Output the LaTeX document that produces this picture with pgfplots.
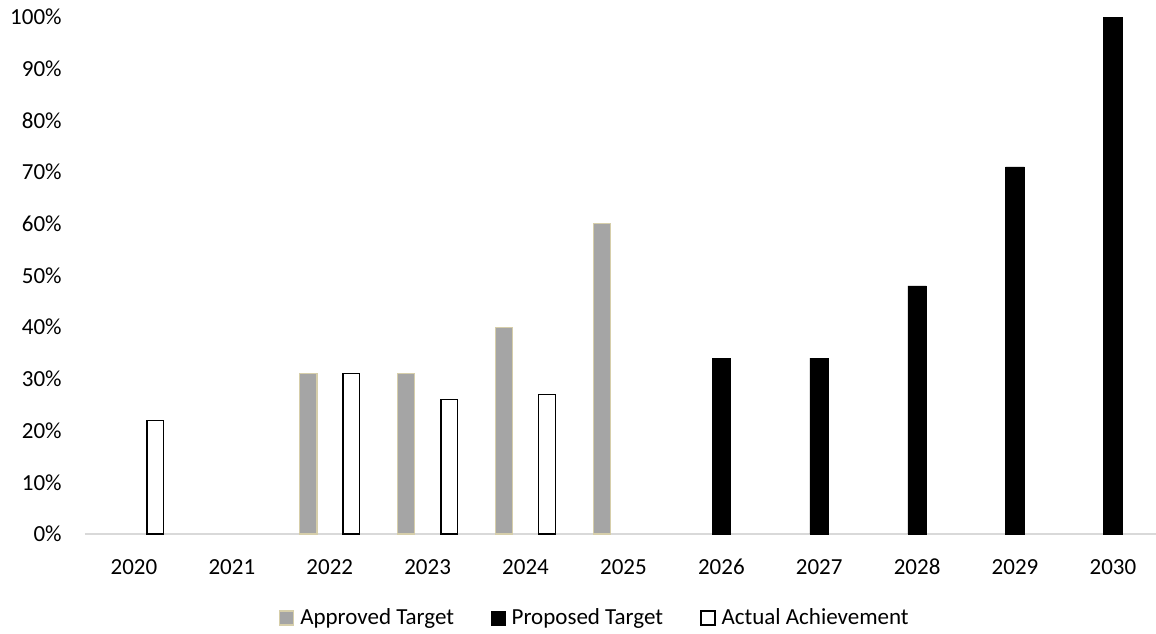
\documentclass[border=0pt]{standalone}
\usepackage{fontspec}
\setmainfont{Carlito}
\usepackage{pgfplots}
\pgfplotsset{compat=1.18}
\definecolor{apfill}{RGB}{165,165,165}
\definecolor{apedge}{RGB}{214,206,170}
\definecolor{axgray}{RGB}{217,217,217}
\begin{document}
\fontsize{11.5pt}{13.8pt}\selectfont
\begin{tikzpicture}
\path[use as bounding box] (-42.5pt,-49.5pt) rectangle (535.5pt,267pt);
\begin{axis}[
  at={(0pt,0pt)}, anchor=south west,
  scale only axis, width=535.5pt, height=258.5pt,
  xmin=-0.5, xmax=10.44, ymin=0, ymax=100,
  axis lines*=left,
  x axis line style={axgray, line width=0.75pt},
  y axis line style={draw=none},
  major tick length=0pt,
  xtick={0,1,2,3,4,5,6,7,8,9,10},
  xticklabels={2020,2021,2022,2023,2024,2025,2026,2027,2028,2029,2030},
  ytick={0,10,20,30,40,50,60,70,80,90,100},
  yticklabel={\pgfmathprintnumber{\tick}\%},
  /pgf/number format/assume math mode=true,
  tick label style={font=\fontsize{11.5pt}{13.8pt}\selectfont},
  xticklabel style={anchor=base, yshift=-20pt, inner sep=0pt},
  yticklabel style={anchor=east, inner sep=0pt, xshift=-11.5pt},
  legend style={at={(0.4765,-0.1625)}, anchor=center, draw=none, fill=none,
    legend columns=3, font=\fontsize{11.5pt}{13.8pt}\selectfont,
    /tikz/every even column/.append style={column sep=17pt},
    nodes={inner sep=1.5pt}},
  legend image code/.code={\draw[#1] (0pt,-3.5pt) rectangle (7pt,3.5pt);},
  clip=false,
]
\addplot[ybar, bar width=8.7pt, bar shift=-10.75pt, fill=apfill, draw=apedge, line width=0.6pt]
  coordinates {(2,31) (3,31) (4,40) (5,60)};
\addlegendentry{\hspace{1.5pt}Approved Target}
\addplot[ybar, bar width=9.3pt, bar shift=0pt, fill=black, draw=black, line width=0.3pt]
  coordinates {(6,34) (7,34) (8,48) (9,71) (10,100)};
\addlegendentry{\hspace{1.5pt}Proposed Target}
\addplot[ybar, bar width=8.3pt, bar shift=10.75pt, fill=white, draw=black, line width=0.75pt]
  coordinates {(0,22) (2,31) (3,26) (4,27)};
\addlegendentry{\hspace{1.5pt}Actual Achievement}
\end{axis}
\end{tikzpicture}
\end{document}
